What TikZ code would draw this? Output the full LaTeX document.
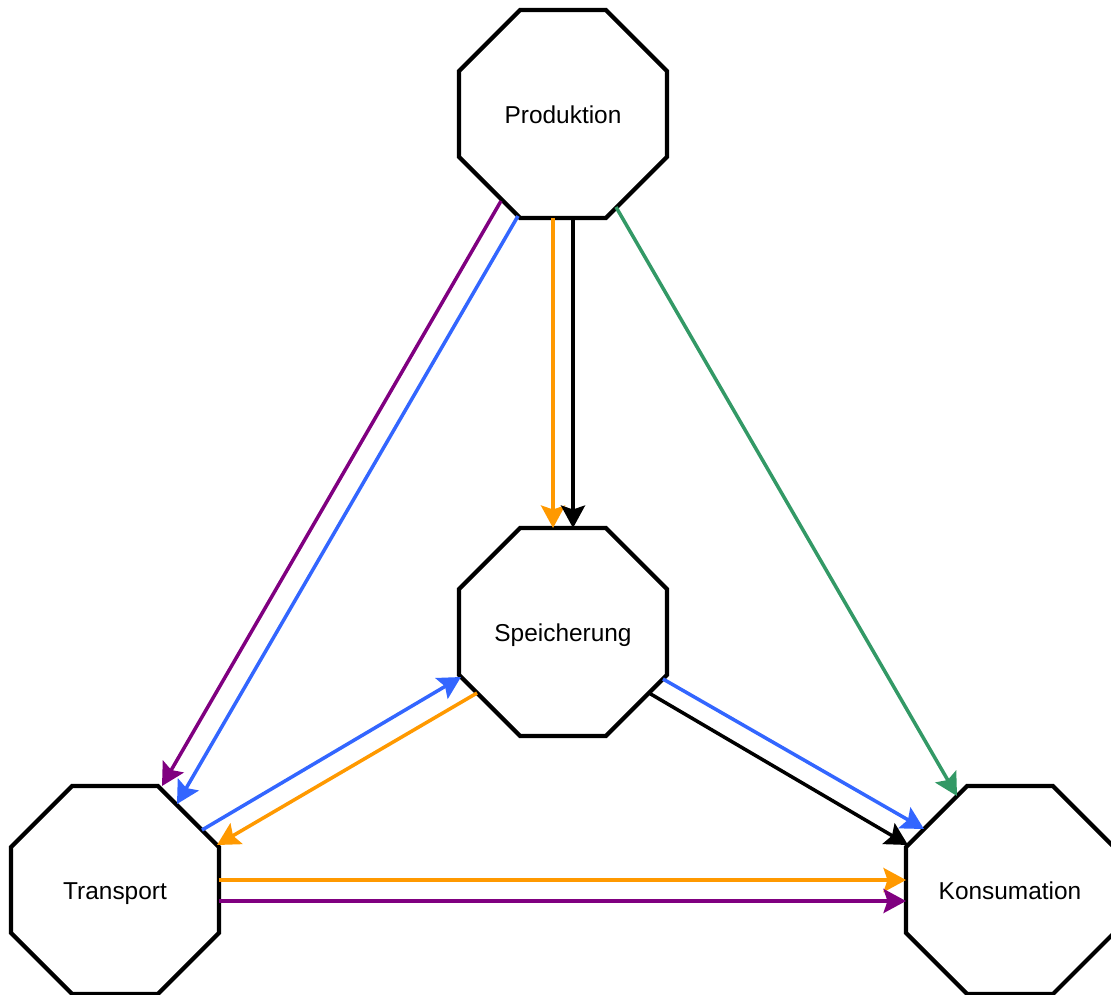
\documentclass[tikz,border=0pt]{standalone}
\usepackage{fontspec}
\setmainfont{Liberation Sans}
\usetikzlibrary{shapes.geometric,arrows.meta,calc}

\definecolor{flowpurple}{HTML}{800080}
\definecolor{flowblue}{HTML}{3366FF}
\definecolor{floworange}{HTML}{FF9900}
\definecolor{flowgreen}{HTML}{339966}

\begin{document}
\begin{tikzpicture}[x=0.02cm, y=-0.02cm,
        octa/.style={regular polygon, regular polygon sides=8, draw, line width=2.4pt,
            minimum size=4.5cm, inner sep=0pt, text height=10.8pt, text depth=0pt,
            font=\fontsize{13.9}{16}\selectfont},
        flow/.style={line width=2pt, -{Stealth[length=0.45cm, width=0.48cm, inset=0.08cm]}}]
    \useasboundingbox (0,0) rectangle (1111,994);

    \node[octa] (prod) at (563,114) {Produktion};
    \node[octa] (speich) at (563,632) {Speicherung};
    \node[octa] (trans) at (115,890) {Transport};
    \node[octa] (kons) at (1010,890) {Konsumation};

    % Produktion
    \draw[flow, flowpurple] ($(prod)+(-62,87)$) -- ($(trans)+(47,-104)$);
    \draw[flow, flowblue] ($(prod)+(-45,102)$) -- ($(trans)+(62,-86)$);
    \draw[flow, floworange] ($(prod)+(-10,104)$) -- ($(speich)+(-10,-104)$);
    \draw[flow, black] ($(prod)+(10,104)$) -- ($(speich)+(10,-104)$);
    \draw[flow, flowgreen] ($(prod)+(53,93)$) -- ($(kons)+(-53,-94)$);

    % Speicherung
    \draw[flow, flowblue] ($(trans)+(87,-60)$) -- ($(speich)+(-102,45)$);
    \draw[flow, floworange] ($(speich)+(-86,61)$) -- ($(trans)+(102,-45)$);
    \draw[flow, flowblue] ($(speich)+(100,47)$) -- ($(kons)+(-86,-61)$);
    \draw[flow, black] ($(speich)+(86,61)$) -- ($(kons)+(-102,-45)$);

    % Transport
    \draw[flow, floworange] ($(trans)+(104,-10)$) -- ($(kons)+(-104,-10)$);
    \draw[flow, flowpurple] ($(trans)+(104,11)$) -- ($(kons)+(-104,11)$);
\end{tikzpicture}
\end{document}
